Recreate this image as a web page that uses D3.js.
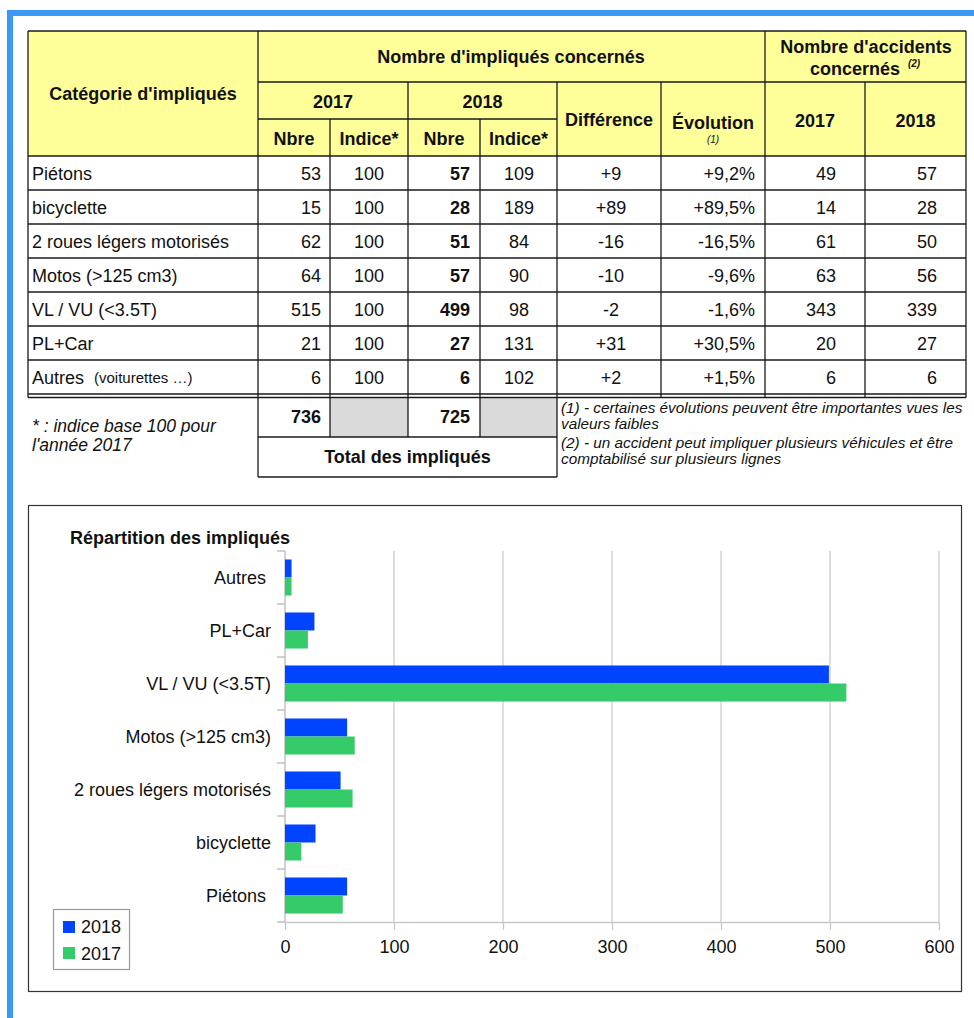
<!DOCTYPE html>
<html>
<head>
<meta charset="utf-8">
<script src="https://cdn.jsdelivr.net/npm/d3@7"></script>
<style>
body { margin:0; background:#fff; }
text { font-family:"Liberation Sans", Arial, sans-serif; fill:#111; }
</style>
</head>
<body>
<svg id="page" width="974" height="1018"></svg>
<script>
// donnees du tableau
var categories = ["Piétons", "bicyclette", "2 roues légers motorisés", "Motos (>125 cm3)", "VL / VU (<3.5T)", "PL+Car", "Autres"];
var nbre2017 = [53, 15, 62, 64, 515, 21, 6];
var indice2017 = [100, 100, 100, 100, 100, 100, 100];
var nbre2018 = [57, 28, 51, 57, 499, 27, 6];
var indice2018 = [109, 189, 84, 90, 98, 131, 102];
var difference = ["+9", "+89", "-16", "-10", "-2", "+31", "+2"];
var evolution = ["+9,2%", "+89,5%", "-16,5%", "-9,6%", "-1,6%", "+30,5%", "+1,5%"];
var accidents2017 = [49, 14, 61, 63, 343, 20, 6];
var accidents2018 = [57, 28, 50, 56, 339, 27, 6];
var totaux = [736, 725];

// donnees du graphique
var series = ["2018", "2017"];
var chartLabels = ["Autres ", "PL+Car", "VL / VU (<3.5T)", "Motos (>125 cm3)", "2 roues légers motorisés", "bicyclette", "Piétons "];
var xTicks = [0, 100, 200, 300, 400, 500, 600];

var svg = d3.select("#page");
var lineColor = "#1a1a1a";

// cadre bleu
svg.append("rect").attr("x", 7).attr("y", 10).attr("width", 967).attr("height", 6).attr("fill", "#3b98f6");
svg.append("rect").attr("x", 7).attr("y", 10).attr("width", 6).attr("height", 1008).attr("fill", "#3b98f6");

// ---------- tableau ----------
var colX = [28, 258, 330, 408, 480, 557, 661, 765, 865, 966];
var rowY = d3.scaleBand().domain(d3.range(categories.length)).range([156, 394]);
var gT = svg.append("g");

gT.append("rect").attr("x", 28).attr("y", 31).attr("width", 938).attr("height", 125).attr("fill", "#ffff99");
gT.append("rect").attr("x", 330).attr("y", 397).attr("width", 78).attr("height", 40).attr("fill", "#dadada");
gT.append("rect").attr("x", 480).attr("y", 397).attr("width", 77).attr("height", 40).attr("fill", "#dadada");

function hline(x1, x2, y){
	gT.append("line").attr("x1", x1).attr("x2", x2).attr("y1", y).attr("y2", y)
	  .attr("stroke", lineColor).attr("stroke-width", 1.3);
}
function vline(x, y1, y2){
	gT.append("line").attr("x1", x).attr("x2", x).attr("y1", y1).attr("y2", y2)
	  .attr("stroke", lineColor).attr("stroke-width", 1.3);
}

hline(28, 966, 31);
hline(258, 966, 82);
hline(258, 557, 119);
hline(28, 966, 156);
for(var i = 1 ; i < categories.length ; i++){
	hline(28, 966, rowY(i));
}
hline(28, 966, 394);
hline(28, 966, 397.5);
hline(258, 557, 437);
hline(258, 557, 477);

vline(28, 31, 397.5);
vline(966, 31, 397.5);
vline(258, 31, 477);
vline(330, 119, 437);
vline(408, 82, 437);
vline(480, 119, 437);
vline(557, 82, 477);
vline(661, 82, 397.5);
vline(765, 31, 397.5);
vline(865, 82, 397.5);

function txt(s, x, y, anchor, size, weight, style){
	return gT.append("text").text(s)
	  .attr("x", x).attr("y", y)
	  .attr("text-anchor", anchor)
	  .attr("font-size", size + "px")
	  .attr("font-weight", weight || "normal")
	  .attr("font-style", style || "normal");
}

// entetes
txt("Catégorie d'impliqués", 143, 100, "middle", 18, "bold");
txt("Nombre d'impliqués concernés", 511, 63, "middle", 18, "bold");
txt("Nombre d'accidents", 866, 53, "middle", 18, "bold");
txt("concernés", 855, 75, "middle", 18, "bold");
txt("(2)", 914, 67, "middle", 10, "bold", "italic");
txt("2017", 333, 108, "middle", 18, "bold");
txt("2018", 482.5, 108, "middle", 18, "bold");
txt("Nbre", 294, 145, "middle", 18, "bold");
txt("Indice*", 369, 145, "middle", 18, "bold");
txt("Nbre", 444, 145, "middle", 18, "bold");
txt("Indice*", 518.5, 145, "middle", 18, "bold");
txt("Différence", 609, 126, "middle", 18, "bold");
txt("Évolution", 713, 129, "middle", 18, "bold");
txt("(1)", 713, 143, "middle", 10, "normal", "italic");
txt("2017", 815, 127, "middle", 18, "bold");
txt("2018", 915.5, 127, "middle", 18, "bold");

// lignes de donnees
var columns = [
	{ values: nbre2017, x: 321, anchor: "end" },
	{ values: indice2017, x: 369, anchor: "middle" },
	{ values: nbre2018, x: 470, anchor: "end", bold: true },
	{ values: indice2018, x: 519, anchor: "middle" },
	{ values: difference, x: 611, anchor: "middle" },
	{ values: evolution, x: 755, anchor: "end" },
	{ values: accidents2017, x: 836, anchor: "end" },
	{ values: accidents2018, x: 937, anchor: "end" }
];

categories.forEach(function(c, i){
	var yb = rowY(i) + rowY.bandwidth() / 2 + 6.5;
	var t = txt(c, 32, yb, "start", 18);
	if(c == "Autres"){
		t.append("tspan").attr("font-size", "15px").attr("dx", 10).attr("dy", -1).text("(voiturettes …)");
	}
	columns.forEach(function(col){
		txt(col.values[i], col.x, yb, col.anchor, 18, col.bold ? "bold" : "normal");
	});
});

// totaux
txt(totaux[0], 321, 423, "end", 18, "bold");
txt(totaux[1], 470, 423, "end", 18, "bold");
txt("Total des impliqués", 407.5, 463, "middle", 18, "bold");

// notes
txt("* : indice base 100 pour", 32, 432, "start", 17.5, "normal", "italic");
txt("l'année 2017", 32, 451, "start", 17.5, "normal", "italic");
var notes = ["(1) - certaines évolutions peuvent être importantes vues les", "valeurs faibles",
	"(2) - un accident peut impliquer plusieurs véhicules et être", "comptabilisé sur plusieurs lignes"];
var notesY = [413, 429, 448, 464];
notes.forEach(function(n, i){
	txt(n, 561, notesY[i], "start", 15.3, "normal", "italic");
});

// ---------- graphique ----------
var gC = svg.append("g");
gC.append("rect").attr("x", 28.5).attr("y", 505.5).attr("width", 933).attr("height", 486)
  .attr("fill", "none").attr("stroke", "#333").attr("stroke-width", 1.2);

gC.append("text").text("Répartition des impliqués")
  .attr("x", 70).attr("y", 544)
  .attr("font-size", "18px").attr("font-weight", "bold");

var x = d3.scaleLinear().domain([0, 600]).range([285, 939]);
var y = d3.scaleBand().domain(chartLabels).range([551, 922]).paddingInner(0.32).paddingOuter(0.16);
var ySub = d3.scaleBand().domain(series).range([0, y.bandwidth()]);
var colors = { "2018": "#0044ff", "2017": "#35cb68" };

// valeurs dans l'ordre du graphique (de haut en bas)
var vals2018 = nbre2018.slice().reverse();
var vals2017 = nbre2017.slice().reverse();
var valuesBySerie = { "2018": vals2018, "2017": vals2017 };

// grille
gC.selectAll(".grid").data(xTicks.slice(1)).enter().append("line")
  .attr("class", "grid")
  .attr("x1", function(d){ return x(d); }).attr("x2", function(d){ return x(d); })
  .attr("y1", 551).attr("y2", 922)
  .attr("stroke", "#cccccc").attr("stroke-width", 1.3);

// axe x
var xAxis = gC.append("g").attr("transform", "translate(0,922)")
  .call(d3.axisBottom(x).tickValues(xTicks).tickSize(8).tickSizeOuter(0).tickPadding(10));
xAxis.select(".domain").attr("stroke", "#c8c8c8").attr("stroke-width", 1.3);
xAxis.selectAll(".tick line").attr("stroke", "#c8c8c8").attr("stroke-width", 1.3);
xAxis.selectAll(".tick text").attr("font-size", "18px").attr("font-family", "Liberation Sans, Arial, sans-serif").attr("fill", "#1a1a1a");

// axe y : ligne + graduations entre categories
gC.append("line").attr("x1", x(0)).attr("x2", x(0)).attr("y1", 551).attr("y2", 922)
  .attr("stroke", "#b8b8b8").attr("stroke-width", 1.3);
var bounds = chartLabels.map(function(c){ return y(c) - y.step() * y.paddingInner() / 2; });
bounds.push(922);
gC.selectAll(".ytick").data(bounds).enter().append("line")
  .attr("class", "ytick")
  .attr("x1", 277).attr("x2", x(0))
  .attr("y1", function(d){ return d; }).attr("y2", function(d){ return d; })
  .attr("stroke", "#b8b8b8").attr("stroke-width", 1.3);

gC.selectAll(".ylab").data(chartLabels).enter().append("text")
  .attr("class", "ylab")
  .attr("x", 271)
  .attr("y", function(d){ return y(d) + y.bandwidth() / 2 + 6.5; })
  .attr("text-anchor", "end")
  .attr("font-size", "18px")
  .style("white-space", "pre")
  .attr("fill", "#1a1a1a")
  .text(function(d){ return d; });

// barres
series.forEach(function(s){
	gC.selectAll(".bar" + s).data(chartLabels).enter().append("rect")
	  .attr("class", "bar" + s)
	  .attr("x", x(0))
	  .attr("y", function(d){ return y(d) + ySub(s); })
	  .attr("width", function(d, i){ return x(valuesBySerie[s][i]) - x(0); })
	  .attr("height", ySub.bandwidth())
	  .attr("fill", colors[s]);
});

// legende
gC.append("rect").attr("x", 53.5).attr("y", 909.5).attr("width", 76).attr("height", 60)
  .attr("fill", "#fff").attr("stroke", "#999").attr("stroke-width", 1.2);
series.forEach(function(s, i){
	gC.append("rect").attr("x", 63).attr("y", 921 + i * 26).attr("width", 12).attr("height", 12).attr("fill", colors[s]);
	gC.append("text").text(s).attr("x", 81).attr("y", 933 + i * 26.5)
	  .attr("font-size", "18px").attr("fill", "#1a1a1a");
});
</script>
</body>
</html>
